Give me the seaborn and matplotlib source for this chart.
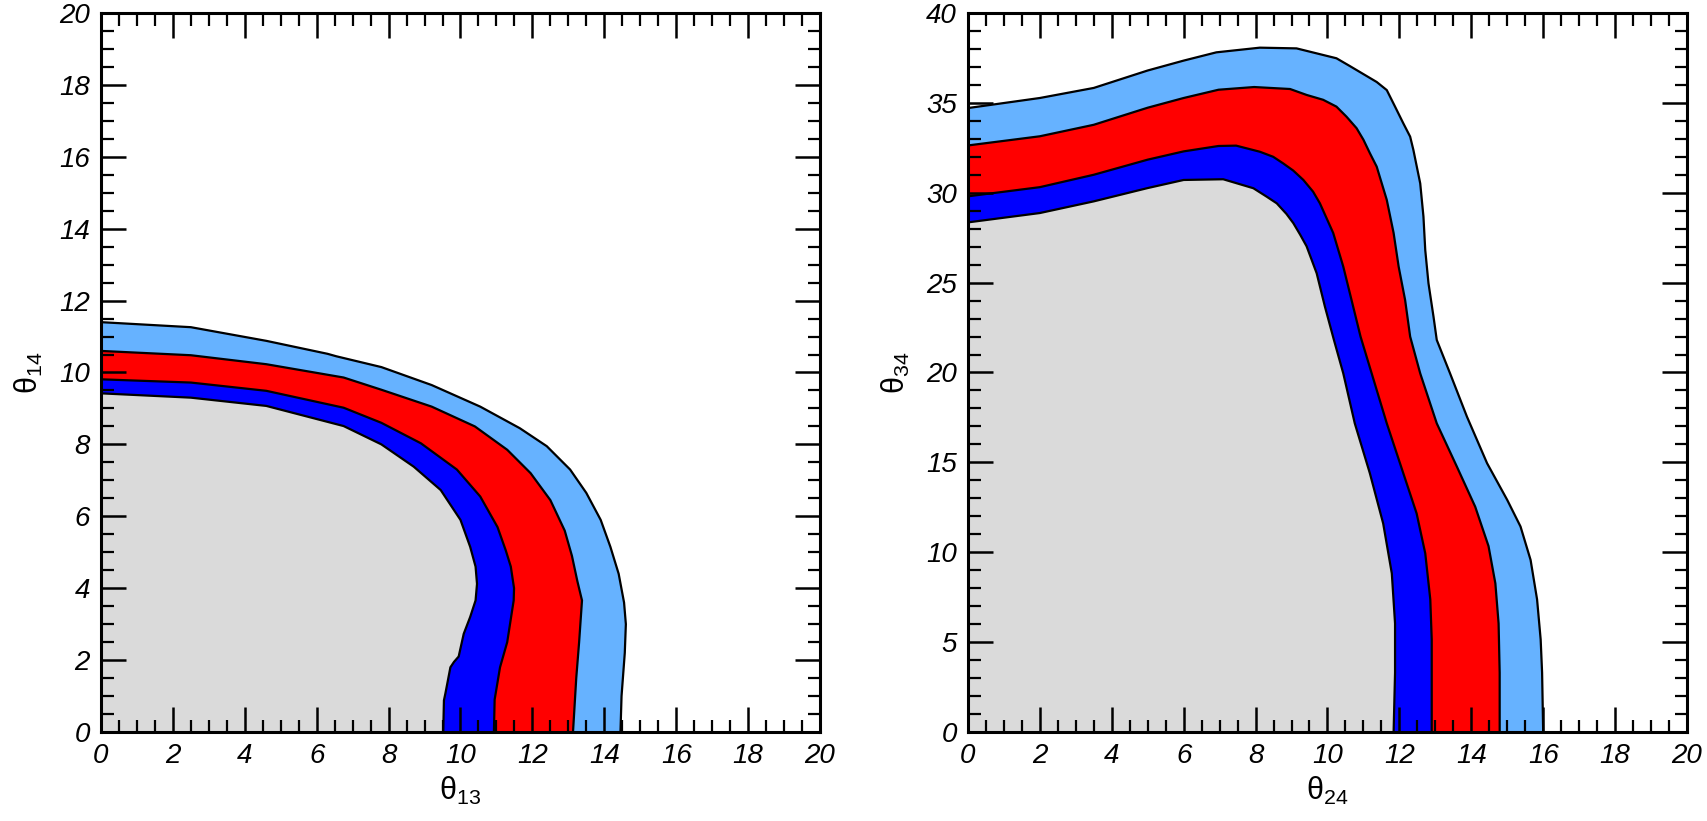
import numpy as np
import matplotlib
matplotlib.use("Agg")
import matplotlib.pyplot as plt
import seaborn as sns

# ----------------------------------------------------------
# Contour boundaries
# each curve runs from the y axis (x=0) down to the x axis (y=0)
# ----------------------------------------------------------

# left panel: theta_13 (x) vs theta_14 (y)
L_GRAY_X = [0, 2.5, 4.6, 6.75, 7.8, 8.7, 9.45, 10.0, 10.27, 10.42, 10.46, 10.42,
            10.27, 10.09, 9.95, 9.82, 9.72, 9.58, 9.54, 9.52]
L_GRAY_Y = [9.42, 9.3, 9.07, 8.51, 8.0, 7.38, 6.73, 5.9, 5.15, 4.6, 4.12, 3.66,
            3.2, 2.73, 2.1, 1.95, 1.8, 1.07, 0.88, 0]

L_BLUE_X = [0, 2.5, 4.6, 6.75, 7.8, 8.9, 9.9, 10.55, 11.03, 11.26, 11.4, 11.49,
            11.48, 11.3, 11.1, 10.95, 10.93]
L_BLUE_Y = [9.81, 9.72, 9.49, 9.02, 8.6, 8.03, 7.3, 6.55, 5.7, 5.05, 4.6, 4.0,
            3.66, 2.5, 1.8, 0.9, 0]

L_RED_X = [0, 2.5, 4.6, 6.75, 7.8, 9.2, 10.4, 11.3, 11.95, 12.5, 12.9, 13.1,
           13.25, 13.38, 13.3, 13.22, 13.13]
L_RED_Y = [10.6, 10.48, 10.23, 9.86, 9.52, 9.05, 8.5, 7.85, 7.2, 6.45, 5.6, 4.9,
           4.2, 3.66, 2.5, 1.5, 0]

L_SKY_X = [0, 2.5, 4.6, 6.3, 6.55, 7.8, 9.2, 10.55, 11.65, 12.4, 13.05, 13.5,
           13.9, 14.17, 14.4, 14.55, 14.6, 14.57, 14.48, 14.45]
L_SKY_Y = [11.4, 11.26, 10.88, 10.52, 10.45, 10.15, 9.65, 9.05, 8.45, 7.95, 7.3,
           6.65, 5.9, 5.15, 4.4, 3.6, 3.0, 2.2, 1.0, 0]

# right panel: theta_24 (x) vs theta_34 (y)
R_GRAY_X = [0, 2, 3.5, 5.0, 6.0, 7.1, 7.94, 8.31, 8.59, 8.86, 9.05, 9.24, 9.42,
            9.7, 9.93, 10.18, 10.44, 10.76, 11.18, 11.55, 11.79, 11.88, 11.88, 11.84]
R_GRAY_Y = [28.35, 28.87, 29.52, 30.26, 30.71, 30.75, 30.25, 29.78, 29.41, 28.82,
            28.31, 27.67, 27.02, 25.52, 23.66, 21.81, 19.95, 17.17, 14.39, 11.6,
            8.82, 6.04, 3.3, 0]

R_BLUE_X = [0, 2, 3.5, 5.0, 6.0, 6.97, 7.46, 8.12, 8.49, 8.77, 9.05, 9.33, 9.6,
            9.79, 10.16, 10.44, 10.67, 10.92, 11.23, 11.65, 12.11, 12.48, 12.72,
            12.86, 12.9, 12.9]
R_BLUE_Y = [29.8, 30.31, 31.0, 31.84, 32.3, 32.6, 32.62, 32.28, 32.0, 31.63, 31.23,
            30.71, 30.06, 29.41, 27.76, 25.89, 24.03, 22.0, 19.95, 17.17, 14.39,
            12.16, 9.94, 7.38, 5.15, 0]

R_RED_X = [0, 2, 3.5, 5.0, 6.0, 6.97, 7.96, 8.96, 9.42, 9.88, 10.25, 10.53, 10.81,
           11.0, 11.18, 11.37, 11.65, 11.84, 11.98, 12.16, 12.3, 12.58, 13.04,
           13.6, 14.11, 14.48, 14.67, 14.76, 14.79, 14.79]
R_RED_Y = [32.63, 33.14, 33.78, 34.73, 35.27, 35.73, 35.88, 35.77, 35.44, 35.17,
           34.79, 34.23, 33.59, 32.95, 32.2, 31.45, 29.6, 27.76, 25.89, 24.03,
           22.0, 19.95, 17.17, 14.76, 12.53, 10.34, 8.27, 6.04, 3.3, 0]

R_SKY_X = [0, 2, 3.5, 5.0, 6.0, 6.91, 8.12, 9.14, 10.25, 10.62, 11.37,
           11.65, 11.88, 12.11, 12.3, 12.39, 12.58, 12.67, 12.72, 12.81, 12.95,
           13.04, 13.41, 13.88, 14.44, 15.0, 15.37, 15.65, 15.83, 15.93,
           15.97, 16.0]
R_SKY_Y = [34.71, 35.27, 35.83, 36.8, 37.35, 37.81, 38.07, 38.03, 37.48, 37.05,
           36.16, 35.71, 34.79, 33.86, 33.12, 32.38, 30.52, 28.67, 26.81,
           24.96, 23.1, 21.81, 19.95, 17.54, 14.95, 12.91, 11.43, 9.57,
           7.38, 5.15, 3.3, 0]

X_TICKS = list(range(0, 21, 2))
L_Y_TICKS = list(range(0, 21, 2))
R_Y_TICKS = list(range(0, 41, 5))

COLORS = {"sky": "#66b2ff", "red": "#ff0000", "blue": "#0000ff", "gray": "#dadada"}

# ----------------------------------------------------------
# Style
# ----------------------------------------------------------
sns.set_theme(style="ticks")
plt.rcParams["font.family"] = ["Liberation Sans", "DejaVu Sans"]
plt.rcParams["mathtext.default"] = "regular"
plt.rcParams["axes.linewidth"] = 2.2
plt.rcParams["text.color"] = "black"
plt.rcParams["axes.labelcolor"] = "black"
plt.rcParams["xtick.labelcolor"] = "black"
plt.rcParams["ytick.labelcolor"] = "black"


def draw_panel(ax, curves, yticks, ymax, xlabel, ylabel):
    # outer band first, inner grey region last
    for cx, cy, key in curves:
        ax.fill(list(cx) + [0], list(cy) + [0], color=COLORS[key], lw=0, zorder=1)
    for cx, cy, key in curves:
        sns.lineplot(x=cx, y=cy, sort=False, estimator=None, color="black",
                     lw=1.6, ax=ax, zorder=2, solid_joinstyle="round")

    ax.set_xlim(0, 20)
    ax.set_ylim(0, ymax)
    ax.set_xticks(X_TICKS)
    ax.set_yticks(yticks)
    ax.set_xticks(np.arange(0, 20.01, 0.5), minor=True)
    ax.set_yticks(np.arange(0, ymax + 0.01, ymax / 40), minor=True)
    ax.tick_params(which="both", direction="in", top=True, right=True,
                   color="black", zorder=3)
    ax.tick_params(which="major", length=18, width=1.8, labelsize=20, pad=8)
    ax.tick_params(which="minor", length=9, width=1.6)
    for lab in ax.get_xticklabels() + ax.get_yticklabels():
        lab.set_fontstyle("italic")
    ax.set_axisbelow(False)
    for sp in ax.spines.values():
        sp.set_zorder(4)
        sp.set_color("black")

    ax.set_xlabel(xlabel, fontsize=22, labelpad=4)
    ax.set_ylabel(ylabel, fontsize=22, labelpad=10)


fig = plt.figure(figsize=(17.08, 8.21), dpi=100)
ax1 = fig.add_axes([0.0591, 0.1084, 0.4210, 0.8758])
ax2 = fig.add_axes([0.5667, 0.1084, 0.4210, 0.8758])

draw_panel(ax1,
           [(L_SKY_X, L_SKY_Y, "sky"), (L_RED_X, L_RED_Y, "red"),
            (L_BLUE_X, L_BLUE_Y, "blue"), (L_GRAY_X, L_GRAY_Y, "gray")],
           L_Y_TICKS, 20, "θ$_{13}$", "θ$_{14}$")

draw_panel(ax2,
           [(R_SKY_X, R_SKY_Y, "sky"), (R_RED_X, R_RED_Y, "red"),
            (R_BLUE_X, R_BLUE_Y, "blue"), (R_GRAY_X, R_GRAY_Y, "gray")],
           R_Y_TICKS, 40, "θ$_{24}$", "θ$_{34}$")

fig.savefig("out.png", dpi=100)
